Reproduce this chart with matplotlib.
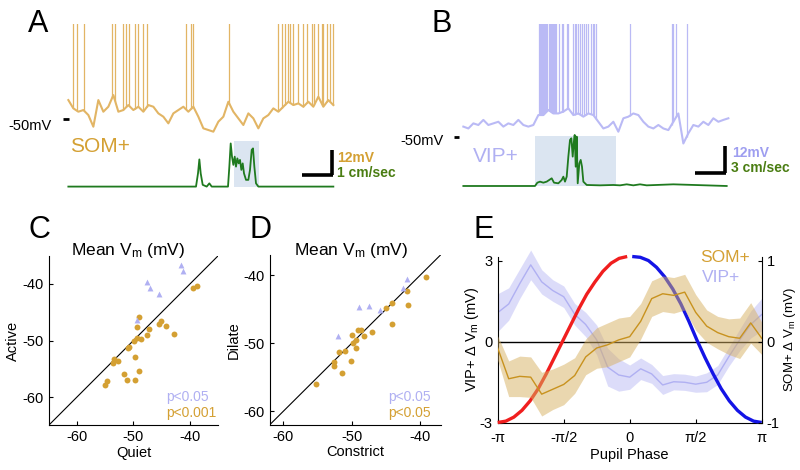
import numpy as np
import matplotlib
matplotlib.use("Agg")
import matplotlib.pyplot as plt

plt.rcParams["font.family"] = ["Liberation Sans", "DejaVu Sans"]
plt.rcParams["mathtext.default"] = "regular"
plt.rcParams["axes.unicode_minus"] = False

W, H = 800, 470

# =========================
# DATA
# =========================
# A: SOM+ membrane potential (mV), one sample per second
som_trace = [-40.9, -44.9, -46.5, -45.7, -48.1, -53.7, -40.9, -46.5, -44.1, -38.5,
             -46.5, -45.7, -43.3, -45.7, -44.1, -46.5, -43.3, -44.1, -47.3, -48.9,
             -52.1, -47.3, -45.7, -44.1, -46.5, -44.1, -48.9, -54.5, -55.3, -56.1,
             -51.3, -48.9, -41.7, -46.5, -49.7, -52.9, -47.3, -49.7, -54.5, -49.7,
             -48.1, -44.9, -46.5, -44.1, -41.7, -43.3, -42.5, -44.1, -41.7, -44.1,
             -39.3, -44.1, -40.9, -43.3]
som_spikes = [1.0, 1.67, 3.13, 8.8, 9.33, 10.87, 11.53, 12.13, 13.33, 14.0, 14.87, 15.67,
              23.47, 24.47, 25.0, 32.2, 41.87, 42.67, 43.33, 43.87, 44.33, 45.0, 46.0,
              47.0, 47.8, 48.67, 49.2, 50.0, 50.67, 50.87, 51.67, 52.33, 53.0]
som_speed_t = [0, 25.53, 25.93, 26.2, 26.47, 26.87, 27.67, 28.2, 28.67, 31.93, 32.2, 32.47,
               32.73, 33.0, 33.27, 33.53, 33.8, 34.07, 34.33, 34.6, 34.87, 35.13, 35.53,
               36.0, 36.33, 36.67, 36.93, 37.2, 37.53, 38.0, 53.0]
som_speed = [0, 0, 0.53, 1.09, 0.53, 0.07, 0, 0.13, 0, 0, 0.8, 1.73,
             1.2, 0.87, 1.2, 0.8, 1.13, 0.93, 1.07, 0.67, 0.93, 0.53, 0.27,
             0.27, 0.67, 1.47, 1.53, 0.8, 0.13, 0, 0]
som_run = (33.2, 38.2)

# B: VIP+ membrane potential (mV)
vip_trace = [-45.6, -46.4, -44.2, -44.9, -42.7, -44.9, -44.2, -43.5, -45.6, -44.2,
             -44.9, -42.7, -44.9, -45.6, -44.9, -40.6, -40.6, -38.4, -39.9, -39.9,
             -39.1, -37.7, -40.6, -39.9, -41.3, -39.9, -40.6, -43.5, -46.4, -45.6,
             -43.5, -47.8, -42.0, -41.3, -39.9, -40.6, -43.5, -45.6, -46.4, -44.9,
             -46.4, -47.1, -43.5, -39.9, -52.9, -48.5, -44.9, -45.6, -43.5, -44.9,
             -42.0, -43.5, -42.7, -42.0]
vip_spikes = [15.2, 15.4, 15.6, 15.8, 16.0, 16.2, 16.4, 16.6, 16.8,
              17.2, 17.4, 17.6, 17.8, 18.0, 18.2, 18.4, 18.6,
              19.2, 19.67, 20.0, 20.67, 21.0, 22.0, 22.27, 22.53, 22.87, 23.33,
              23.67, 24.13, 24.53, 25.0, 25.47, 25.87, 26.2, 26.53,
              33.33, 41.67, 42.0, 42.53, 44.67]
vip_speed_t = [0, 14.33, 14.8, 15.33, 16.0, 16.67, 17.67, 18.13, 19.0, 19.67, 20.0, 20.33,
               20.67, 21.0, 21.33, 21.6, 21.87, 22.07, 22.27, 22.47, 22.67, 22.87, 23.2,
               23.47, 23.73, 24.0, 24.67, 27.33, 30.0, 31.33, 32.67, 34.0, 35.33, 36.67,
               42.0, 52.67]
vip_speed = [0, 0, 0.36, 0.47, 0.36, 0.47, 0.83, 0.36, 0.29, 0.65, 1.01, 0.47,
             1.01, 3.18, 4.98, 5.16, 3.18, 4.62, 5.52, 2.09, 5.34, 0.29, 2.45,
             2.82, 2.09, 0.47, 0.11, 0.07, 0.11, 0.07, 0.18, 0.07, 0.18, 0.07,
             0.18, 0]
vip_run = (14.33, 30.53)

# C: mean Vm, quiet vs active
som_quiet = [-39.5, -38.7, -49.0, -49.4, -47.2, -45.4, -45.2, -44.3, -42.9, -47.6, -48.6,
             -49.4, -49.9, -50.8, -51.0, -49.7, -53.4, -53.6, -52.8, -51.7, -51.2, -49.8,
             -49.0, -54.7, -55.1]
som_active = [-40.8, -40.4, -45.9, -47.6, -48.0, -47.1, -46.6, -47.4, -48.9, -49.1, -49.7,
              -49.5, -50.1, -51.1, -51.3, -52.9, -53.2, -54.0, -53.7, -56.0, -56.9, -56.9,
              -55.4, -57.1, -57.9]
vip_quiet = [-41.5, -41.3, -47.6, -47.0, -45.4, -49.4]
vip_active = [-36.6, -37.7, -39.6, -40.8, -41.7, -46.4]

# D: mean Vm, constrict vs dilate
som_constrict = [-39.1, -41.9, -41.7, -44.1, -45.0, -44.1, -47.0, -48.2, -49.1, -48.6, -49.9,
                 -49.4, -49.8, -49.3, -51.8, -51.0, -52.6, -52.6, -51.4, -50.1, -55.2]
som_dilate = [-40.2, -42.3, -44.4, -44.1, -44.8, -47.2, -48.3, -49.0, -48.1, -48.1, -48.8,
              -49.5, -49.9, -50.7, -51.3, -51.2, -52.8, -53.4, -54.4, -52.6, -56.0]
vip_constrict = [-41.9, -42.5, -48.9, -47.4, -45.8, -52.0]
vip_dilate = [-40.6, -41.8, -44.7, -44.5, -45.1, -49.0]

# E: delta Vm vs pupil phase
vip_dvm = [1.07, 1.39, 2.14, 2.84, 2.21, 1.89, 1.66, 1.01, 0.63, 0.06, -0.95, -1.24, -1.32,
           -1.01, -1.20, -1.61, -1.49, -1.51, -1.58, -1.51, -1.24, -0.57, 0.06, 0.63, 1.0]
vip_sem = [0.7, 0.6, 0.55, 0.55, 0.45, 0.4, 0.4, 0.4, 0.45, 0.55, 0.7, 0.6, 0.45,
           0.4, 0.35, 0.35, 0.3, 0.3, 0.3, 0.35, 0.35, 0.35, 0.4, 0.5, 0.6]
som_dvm = [-0.08, -0.46, -0.43, -0.44, -0.65, -0.59, -0.53, -0.42, -0.19, -0.08, -0.04, 0.02,
           0.06, 0.25, 0.53, 0.59, 0.57, 0.61, 0.36, 0.19, 0.11, 0.06, 0.04, 0.23, 0.04]
som_sem = [0.15, 0.22, 0.25, 0.25, 0.27, 0.25, 0.25, 0.22, 0.22, 0.25, 0.27, 0.27, 0.25,
           0.22, 0.22, 0.22, 0.22, 0.22, 0.22, 0.2, 0.2, 0.22, 0.25, 0.25, 0.2]
pupil_rise = [-3.0, -2.95, -2.8, -2.55, -2.2, -1.75, -1.2, -0.6, 0.0, 0.6, 1.2, 1.75,
              2.2, 2.6, 2.9, 3.08, 3.15]
pupil_fall = [3.15, 3.12, 3.0, 2.75, 2.4, 1.95, 1.4, 0.75, 0.05, -0.6, -1.2, -1.75,
              -2.2, -2.55, -2.8, -2.95, -3.0]

# =========================
# STYLE
# =========================
GOLD = "#d4a033"
GOLD_TRACE = "#e2b565"
LAV = "#b0b0f2"
LAV_TRACE = "#babaf5"
GREEN = "#1f7a1f"
GREEN_TXT = "#4a7d12"
RUN_SHADE = "#dbe5f1"

fig = plt.figure(figsize=(W / 100, H / 100), dpi=100)


def px_axes(x0, y0, x1, y1):
    return fig.add_axes([x0 / W, 1 - y1 / H, (x1 - x0) / W, (y1 - y0) / H])


def ftext(x, y, s, **kw):
    fig.text(x / W, 1 - y / H, s, va="baseline", **kw)


def trace_panel(rect, xlim, ylim, trace, spikes, color, sp_t, sp, sp_base, sp_gain, run, run_top,
                bar_x, bar_y, bar_len_t):
    ax = px_axes(*rect)
    t = np.arange(len(trace))
    ax.fill_between(run, sp_base, run_top, color=RUN_SHADE, lw=0, zorder=0)
    ax.plot(t, trace, color=color, lw=1.5, zorder=2)
    foot = np.interp(spikes, t, trace)
    ax.vlines(spikes, foot, 50, color=color, lw=0.9, zorder=2)
    ax.plot(sp_t, sp_base + sp_gain * np.array(sp), color=GREEN, lw=1.3, zorder=3)
    ax.plot([xlim[0] + 0.7, xlim[0] + 1.7], [-50, -50], color="black", lw=2, solid_capstyle="butt")
    ax.plot([bar_x, bar_x], [bar_y, bar_y + 12], color="black", lw=2.6, solid_capstyle="butt")
    ax.plot([bar_x - bar_len_t, bar_x + 0.25], [bar_y, bar_y], color="black", lw=2.6,
            solid_capstyle="butt")
    ax.set_xlim(*xlim)
    ax.set_ylim(*ylim)
    ax.axis("off")
    return ax


# =========================
# A / B
# =========================
trace_panel((60, 24, 345, 192), (-1.67, 55.33), (-85.1, -4.33), som_trace, som_spikes, GOLD_TRACE,
            som_speed_t, som_speed, -82.5, 12, som_run, -60.4, 52.67, -76.9, 6.0)
trace_panel((450, 24, 800, 192), (-2.67, 67.33), (-73.9, -1.19), vip_trace, vip_spikes, LAV_TRACE,
            vip_speed_t, vip_speed, -71.3, 4, vip_run, -49.5, 52.33, -65.8, 6.0)

ftext(8, 129.5, "-50mV", fontsize=10.5)
ftext(400, 145, "-50mV", fontsize=10.5)
ftext(70, 152, "SOM+", fontsize=15, color=GOLD)
ftext(473, 162, "VIP+", fontsize=15, color=LAV)
ftext(337, 162, "12mV", fontsize=10, color=GOLD, fontweight="bold")
ftext(337, 177, "1 cm/sec", fontsize=10, color=GREEN_TXT, fontweight="bold")
ftext(732, 157, "12mV", fontsize=10, color="#9e9ef0", fontweight="bold")
ftext(731, 172, "3 cm/sec", fontsize=10, color=GREEN_TXT, fontweight="bold")

# =========================
# C / D
# =========================
def scatter_panel(rect, lim, sx, sy, vx, vy, xlabel, ylabel):
    ax = px_axes(*rect)
    ax.plot(lim, lim, color="black", lw=0.8, zorder=1)
    ax.scatter(sx, sy, s=18, color=GOLD, lw=0, zorder=3)
    ax.scatter(vx, vy, s=18, marker="^", color=LAV, lw=0, zorder=3)
    ax.set_xlim(*lim)
    ax.set_ylim(*lim)
    ax.set_xticks([-60, -50, -40])
    ax.set_yticks([-60, -50, -40])
    ax.tick_params(direction="in", length=3, width=0.8, labelsize=10.5)
    for s in ["top", "right"]:
        ax.spines[s].set_visible(False)
    ax.set_xlabel(xlabel, fontsize=10.5, labelpad=1)
    ax.set_ylabel(ylabel, fontsize=10.5, labelpad=2)
    return ax


scatter_panel((48.7, 255.7, 218.2, 425.3), (-65, -35), som_quiet, som_active, vip_quiet,
              vip_active, "Quiet", "Active")
scatter_panel((269.6, 254.9, 440.6, 424.9), (-62, -37), som_constrict, som_dilate,
              vip_constrict, vip_dilate, "Constrict", "Dilate")

ftext(128, 255, "Mean V$_{m}$ (mV)", fontsize=12.5, ha="center")
ftext(351, 255, "Mean V$_{m}$ (mV)", fontsize=12.5, ha="center")

ftext(166, 401, "p<0.05", fontsize=10, color=LAV)
ftext(166, 417, "p<0.001", fontsize=10, color=GOLD)
ftext(388, 401, "p<0.05", fontsize=10, color=LAV)
ftext(388, 417, "p<0.05", fontsize=10, color=GOLD)

# =========================
# E
# =========================
ax = px_axes(497.7, 256.5, 761.7, 422.5)
phase = np.linspace(-np.pi, np.pi, len(vip_dvm))
vip_dvm = np.array(vip_dvm)
vip_sem = np.array(vip_sem)
ax.fill_between(phase, vip_dvm - vip_sem, vip_dvm + vip_sem, color=LAV_TRACE, alpha=0.5, lw=0,
                clip_on=False)
ax.plot(phase, vip_dvm, color=LAV, lw=1)
ax.axhline(0, color="black", lw=1)
ax.plot(np.linspace(-np.pi, -0.06, len(pupil_rise)), pupil_rise, color="#f01e1e", lw=2.4,
        solid_capstyle="butt", clip_on=False, zorder=4)
ax.plot(np.linspace(0.06, np.pi, len(pupil_fall)), pupil_fall, color="#1414e6", lw=2.4,
        solid_capstyle="butt", clip_on=False, zorder=4)
ax.set_xlim(-np.pi, np.pi)
ax.set_ylim(-3, 3.15)
ax.set_xticks([-np.pi, -np.pi / 2, 0, np.pi / 2, np.pi])
ax.set_xticklabels(["-π", "-π/2", "0", "π/2", "π"])
ax.set_yticks([-3, 0, 3])
ax.tick_params(direction="in", length=3, width=0.8, labelsize=10.5)
ax.tick_params(axis="x", pad=6)
ax.spines["top"].set_visible(False)
ax.spines["right"].set_visible(False)
ax.set_xlabel("Pupil Phase", fontsize=10.5, labelpad=2)
ax.set_ylabel("VIP+ Δ V$_{m}$ (mV)", fontsize=10.5, labelpad=-1)

ax2 = ax.twinx()
som_dvm = np.array(som_dvm)
som_sem = np.array(som_sem)
ax2.fill_between(phase, som_dvm - som_sem, som_dvm + som_sem, color="#d7b060", alpha=0.5, lw=0)
ax2.plot(phase, som_dvm, color="#c8921e", lw=1)
ax2.set_ylim(-1, 1.05)
ax2.set_yticks([-1, 0, 1])
ax2.tick_params(direction="in", length=3, width=0.8, labelsize=10.5)
for s in ["top", "left", "bottom"]:
    ax2.spines[s].set_visible(False)
ax2.set_ylabel("SOM+ Δ V$_{m}$ (mV)", fontsize=9.5, rotation=90, labelpad=2)

ftext(700, 262, "SOM+", fontsize=12.5, color=GOLD)
ftext(702, 282, "VIP+", fontsize=12.5, color=LAV)

# panel letters
for x, y, s in [(28, 32, "A"), (432, 32, "B"), (28, 238, "C"), (250, 238, "D"), (473, 238, "E")]:
    ftext(x, y, s, fontsize=22)

fig.savefig("out.png", dpi=100)
